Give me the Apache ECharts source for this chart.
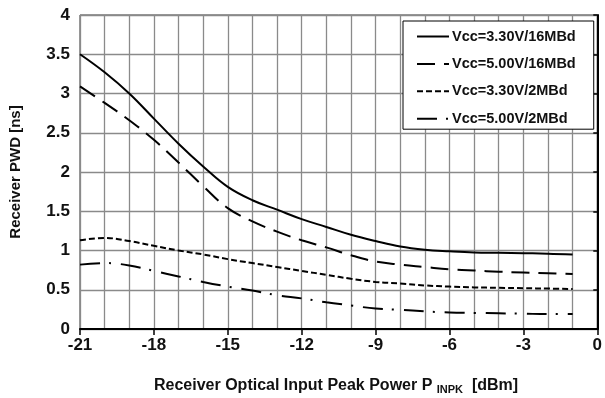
<!DOCTYPE html>
<html><head><meta charset="utf-8">
<script src="https://cdn.jsdelivr.net/npm/echarts@6/dist/echarts.min.js"></script>
<style>html,body{margin:0;padding:0;background:#fff}#c{width:605px;height:398px}</style>
</head><body><div id="c"></div>
<script>
const xValues = [-21,-20,-19,-18,-17,-16,-15,-14,-13,-12,-11,-10,-9,-8,-7,-6,-5,-4,-3,-2,-1];
const v33_16 = [3.50,3.27,3.00,2.68,2.36,2.07,1.81,1.64,1.52,1.40,1.30,1.20,1.12,1.05,1.01,0.99,0.975,0.97,0.965,0.96,0.95];
const v50_16 = [3.09,2.88,2.66,2.41,2.12,1.82,1.54,1.37,1.24,1.13,1.04,0.94,0.86,0.82,0.79,0.76,0.745,0.73,0.72,0.71,0.70];
const v33_2  = [1.13,1.16,1.12,1.06,1.00,0.95,0.89,0.84,0.79,0.74,0.69,0.64,0.60,0.58,0.555,0.54,0.53,0.525,0.52,0.515,0.51];
const v50_2  = [0.82,0.84,0.81,0.74,0.67,0.60,0.54,0.49,0.43,0.39,0.34,0.30,0.26,0.245,0.225,0.21,0.205,0.20,0.195,0.19,0.19];
const seriesNames = ['Vcc=3.30V/16MBd','Vcc=5.00V/16MBd','Vcc=3.30V/2MBd','Vcc=5.00V/2MBd'];
const xTitle = 'Receiver Optical Input Peak Power P';
const xTitleSub = 'INPK';
const xTitleUnit = '[dBm]';
const yTitle = 'Receiver PWD [ns]';

const FONT = '"Liberation Sans",Arial,sans-serif';
const pair = arr => xValues.map((x,i)=>[x,arr[i]]);
const dashes = ['solid',[18,9],[6,3],[20,9,2,10]];
const allData = [v33_16,v50_16,v33_2,v50_2];

const chart = echarts.init(document.getElementById('c'));
chart.setOption({
  animation:false,
  backgroundColor:'#fff',
  grid:{left:80,right:3,top:15,bottom:69,show:true,borderColor:'#333',borderWidth:1},
  title:{
    text:xTitle+' {sub|'+xTitleSub+'}  '+xTitleUnit,
    left:149, top:372,
    textStyle:{fontFamily:FONT,fontWeight:'bold',fontSize:16,color:'#111',
      rich:{sub:{fontFamily:FONT,fontWeight:'bold',fontSize:11,color:'#111',padding:[7,0,0,0]}}}
  },
  legend:{
    orient:'vertical', left:403, top:21, width:189,
    backgroundColor:'#fff', borderColor:'#000', borderWidth:1,
    padding:[8,18,3,13], itemGap:12.4, itemWidth:32, itemHeight:14,
    itemStyle:{opacity:0},
    textStyle:{fontFamily:FONT,fontWeight:'bold',fontSize:14.5,color:'#111',padding:[0,0,0,-2]},
    data:seriesNames
  },
  xAxis:[{
    type:'value', min:-21, max:0, interval:3,
    axisLine:{show:true,onZero:false,lineStyle:{color:'#000',width:2}},
    axisTick:{show:true,length:6,lineStyle:{color:'#000',width:1.5}},
    axisLabel:{fontFamily:FONT,fontWeight:'bold',fontSize:17,color:'#111',margin:8},
    splitLine:{show:false}
  },{
    type:'value', min:-21, max:0, interval:1, position:'bottom',
    axisLine:{show:false}, axisTick:{show:false}, axisLabel:{show:false},
    splitLine:{show:true,lineStyle:{color:'#8a8a8a',width:1.3}}
  }],
  yAxis:{
    type:'value', min:0, max:4, interval:0.5,
    name:yTitle, nameLocation:'middle', nameGap:57, nameRotate:90,
    nameTextStyle:{fontFamily:FONT,fontWeight:'bold',fontSize:15,color:'#111'},
    axisLine:{show:true,lineStyle:{color:'#000',width:2}},
    axisTick:{show:true,length:4,lineStyle:{color:'#000',width:1.5}},
    axisLabel:{fontFamily:FONT,fontWeight:'bold',fontSize:17,color:'#111',margin:10,formatter:v=>String(v)},
    splitLine:{show:true,lineStyle:{color:'#8a8a8a',width:1.3}}
  },
  series:allData.map((arr,i)=>({
    name:seriesNames[i], type:'line', xAxisIndex:0, smooth:0.4, showSymbol:false, symbol:'none',
    data:pair(arr),
    lineStyle:{color:'#000',width:2,type:dashes[i]},
    itemStyle:{color:'#000'}, z:5
  }))
});
</script></body></html>
